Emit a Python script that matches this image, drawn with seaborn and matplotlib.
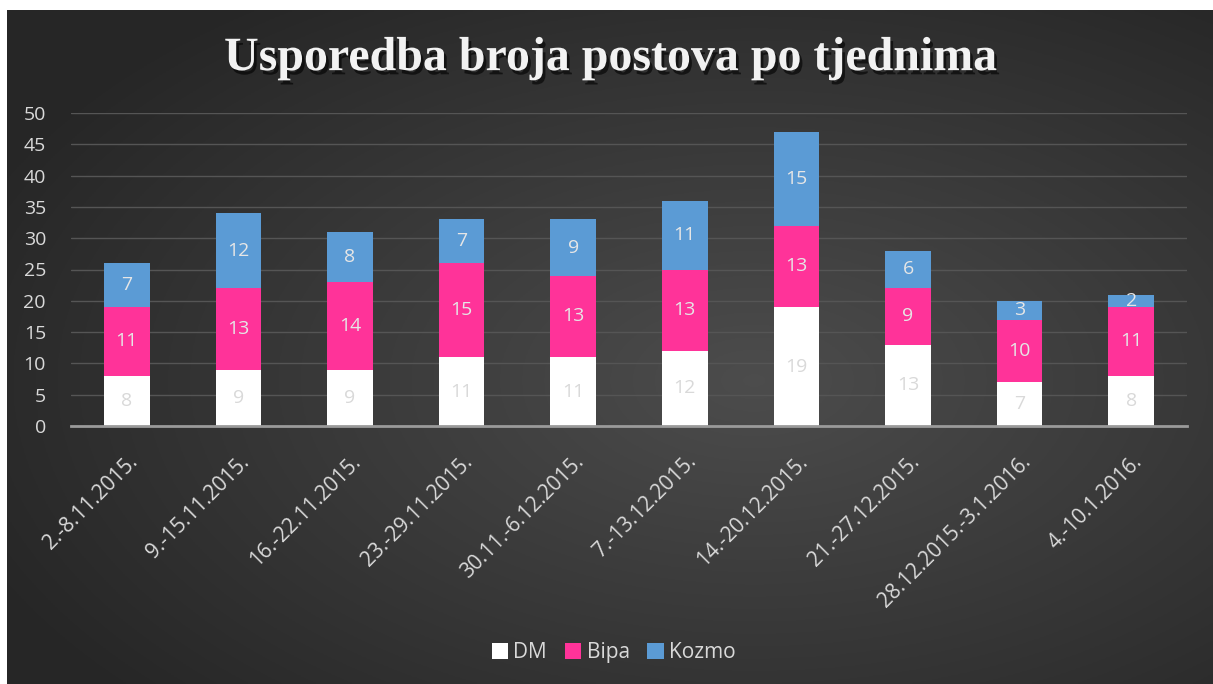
import numpy as np
import pandas as pd
import seaborn as sns
from matplotlib import pyplot as plt
from matplotlib import patheffects as pe
from matplotlib import transforms as mtrans
from matplotlib.patches import Patch

weeks = [
    "2.-8.11.2015.",
    "9.-15.11.2015.",
    "16.-22.11.2015.",
    "23.-29.11.2015.",
    "30.11.-6.12.2015.",
    "7.-13.12.2015.",
    "14.-20.12.2015.",
    "21.-27.12.2015.",
    "28.12.2015.-3.1.2016.",
    "4.-10.1.2016.",
]
dm = [8, 9, 9, 11, 11, 12, 19, 13, 7, 8]
bipa = [11, 13, 14, 15, 13, 13, 13, 9, 10, 11]
kozmo = [7, 12, 8, 7, 9, 11, 15, 6, 3, 2]

series = ["DM", "Bipa", "Kozmo"]
colors = {"DM": "#FFFFFF", "Bipa": "#FF3399", "Kozmo": "#5B9BD5"}
label_colors = {"DM": "#D9D9D9", "Bipa": "#E6E6E6", "Kozmo": "#E6E6E6"}

df = pd.DataFrame({"week": weeks, "DM": dm, "Bipa": bipa, "Kozmo": kozmo})

sns.set_style("white")
plt.rcParams["font.family"] = ["Open Sans", "DejaVu Sans"]

fig = plt.figure(figsize=(12.13, 6.84), dpi=100)
fig.patch.set_facecolor("white")

# dark radial gradient background, small white margin top/left
bg = fig.add_axes([7 / 1213, 0, 1 - 7 / 1213, 674 / 684], zorder=-10)
yy, xx = np.mgrid[0:1:300j, 0:1:500j]
r = np.sqrt(((xx - 0.62) / 0.75) ** 2 + ((yy - 0.55) / 0.75) ** 2)
shade = np.clip(0.30 - 0.16 * r, 0.15, 0.30)
bg.imshow(np.dstack([shade] * 3), aspect="auto", extent=[0, 1, 0, 1])
bg.set_axis_off()

ax = fig.add_axes([71 / 1213, 258 / 684, (1187 - 71) / 1213, (426 - 113) / 684])
ax.set_facecolor("none")

bottom = np.zeros(len(weeks))
for s in series:
    sns.barplot(data=df, x="week", y=s, color=colors[s], bottom=bottom,
                width=0.41, ax=ax, saturation=1, linewidth=0, zorder=3)
    cont = ax.containers[-1]
    ax.bar_label(cont, labels=[str(v) for v in df[s]], label_type="center",
                 color=label_colors[s], fontsize=14, zorder=5)
    bottom = bottom + df[s].values

ax.set_ylim(0, 50)
ax.set_xlim(-0.5, len(weeks) - 0.5)
ax.set_yticks(range(0, 51, 5))
ax.yaxis.grid(True, color="#555555", linewidth=1)
ax.set_axisbelow(True)
for sp in ["top", "right", "left"]:
    ax.spines[sp].set_visible(False)
ax.spines["bottom"].set_color("#9A9A9A")
ax.spines["bottom"].set_linewidth(2)
ax.spines["bottom"].set_zorder(4)
ax.tick_params(axis="both", length=0, colors="#D9D9D9", labelsize=14)
ax.tick_params(axis="y", pad=18)
ax.tick_params(axis="x", labelsize=15, pad=22)
ax.set_xlabel("")
ax.set_ylabel("")
shift = mtrans.ScaledTranslation(8 / 100, -2 / 100, fig.dpi_scale_trans)
for lab in ax.get_xticklabels():
    lab.set_rotation(45)
    lab.set_ha("right")
    lab.set_va("center")
    lab.set_rotation_mode("anchor")
    lab.set_transform(lab.get_transform() + shift)

fig.text(0.503, 0.915, "Usporedba broja postova po tjednima", ha="center", va="center",
         fontsize=34.5, fontweight="bold", color="#F2F2F2", family="Liberation Serif",
         path_effects=[pe.withSimplePatchShadow(offset=(2, -3), shadow_rgbFace="black", alpha=0.6)])

handles = [Patch(facecolor=colors[s], edgecolor="none", label=s) for s in series]
leg = fig.legend(handles=handles, loc="center", bbox_to_anchor=(0.506, 0.046), ncol=3,
                 frameon=False, fontsize=15, handlelength=0.8, handleheight=0.8,
                 handletextpad=0.25, columnspacing=0.85, labelcolor="#D9D9D9")

plt.savefig("out.png", dpi=100, facecolor=fig.get_facecolor())
